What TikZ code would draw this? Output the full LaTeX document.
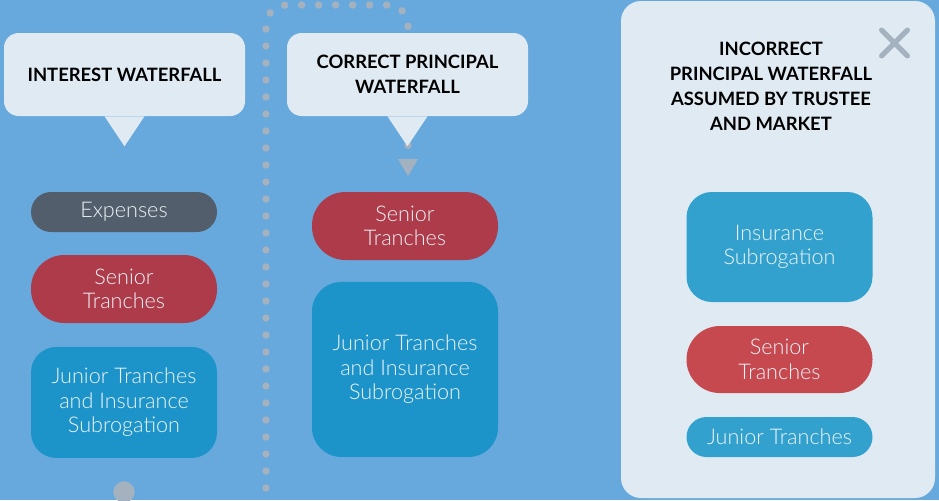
\documentclass[tikz,border=0pt]{standalone}
\usepackage{fontspec}
\setmainfont{Lato}
\newfontfamily\legere{Lato Light}
\usepackage{tikz}
\usetikzlibrary{positioning}

\definecolor{fond}{HTML}{67A9DC}
\definecolor{pale}{HTML}{DFEAF3}
\definecolor{ardoise}{HTML}{525E6B}
\definecolor{rouge}{HTML}{AE3B4A}
\definecolor{rougeclair}{HTML}{C5494F}
\definecolor{bleu}{HTML}{1D94C9}
\definecolor{bleuclair}{HTML}{33A1CE}
\definecolor{gris}{HTML}{A4B1BF}
\definecolor{blanc}{HTML}{EEF3F8}

\tikzset{
  bulle/.style={fill=pale, rounded corners=11pt, minimum width=180.75pt,
    minimum height=62.25pt, align=center, font=\fontsize{13.8}{18.5}\selectfont\bfseries},
  tranche/.style={minimum width=139.5pt, align=center, text=blanc,
    font=\legere\fontsize{16.2}{18.5}\selectfont},
  pointille/.style={gris, line width=5.6pt, line cap=round,
    dash pattern=on 0pt off 12.75pt},
}

\begin{document}
\begin{tikzpicture}[x=0.75pt, y=-0.75pt, on grid]
    \useasboundingbox (0,0) rectangle (939,500);
    \fill[fond] (0,0) rectangle (939,500);

                % Chemin en pointillés
                \coordinate (depart) at (266,505);
                \coordinate (sommet) at (337,5);
                \coordinate (arrivee) at (408,150);
                \draw[pointille, rounded corners=15pt] (depart) |- (sommet) -| (arrivee);
                \coordinate (fleche) at (408,159);
                \fill[gris] ([xshift=-7.5pt]fleche) -- ([xshift=7.5pt]fleche) -- ([yshift=-12.75pt]fleche) -- cycle;
                \fill[gris] (124,492) circle (8pt);

                % Bulles
                \node[bulle] (interet) at (124.5,74.5) {INTEREST WATERFALL};
                \fill[pale] ([xshift=-15pt]interet.south) -- ([xshift=15pt]interet.south) -- ([yshift=-22.5pt]interet.south) -- cycle;
                \node[bulle] (correct) at (407.5,74.5) {CORRECT PRINCIPAL\\WATERFALL};
                \fill[pale] ([xshift=-15pt]correct.south) -- ([xshift=15pt]correct.south) -- ([yshift=-22.5pt]correct.south) -- cycle;

                % Panneau de droite
                \fill[pale, rounded corners=15pt] (621,1) rectangle (935,498);
                \node[align=center, font=\fontsize{13.8}{18.75}\selectfont\bfseries] (incorrect) at (771,86.5)
                  {INCORRECT\\PRINCIPAL WATERFALL\\ASSUMED BY TRUSTEE\\AND MARKET};
                \coordinate (croix) at (894.5,43);
                \draw[gris, line width=3.75pt, line cap=round]
                  ([shift={(-9.75pt,9.75pt)}]croix) -- ([shift={(9.75pt,-9.75pt)}]croix)
                  ([shift={(-9.75pt,-9.75pt)}]croix) -- ([shift={(9.75pt,9.75pt)}]croix);

                % Colonne de gauche
                \node[tranche, fill=ardoise, minimum height=30pt, rounded corners=15pt] (depG) at (124,212) {Expenses};
                \node[tranche, fill=rouge, minimum height=51pt, rounded corners=25pt, below=57.75pt of depG] (senG) {Senior\\Tranches};
                \node[tranche, fill=bleu, minimum height=83.25pt, rounded corners=19pt, below=85.1pt of senG] (junG) {Junior Tranches\\and Insurance\\Subrogation};

                % Colonne du milieu
                \node[tranche, fill=rouge, minimum height=51pt, rounded corners=25pt] (senM) at (405,226) {Senior\\Tranches};
                \node[tranche, fill=bleu, minimum height=131.25pt, rounded corners=22pt, below=107.6pt of senM] (junM) {Junior Tranches\\and Insurance\\Subrogation};

                % Colonne de droite
                \node[tranche, fill=bleuclair, minimum height=82.5pt, rounded corners=19pt] (assD) at (779.5,247) {Insurance\\Subrogation};
                \node[tranche, fill=rougeclair, minimum height=50.25pt, rounded corners=25pt, below=84.4pt of assD] (senD) {Senior\\Tranches};
                \node[tranche, fill=bleuclair, minimum height=30pt, rounded corners=15pt, below=58.1pt of senD] (junD) {Junior Tranches};

            \end{tikzpicture}
\end{document}
